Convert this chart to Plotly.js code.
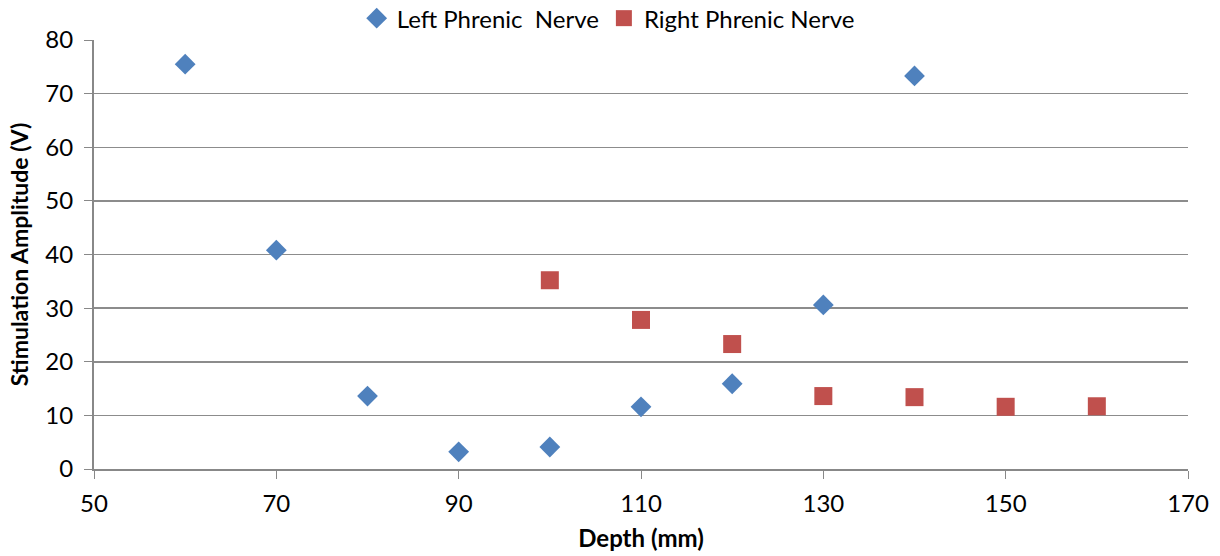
<!DOCTYPE html>
<html>
<head>
<meta charset="utf-8">
<script src="https://cdn.plot.ly/plotly-3.0.1.min.js"></script>
<style>html,body{margin:0;padding:0;background:#fff}#chart{width:1220px;height:556px}</style>
</head>
<body>
<div id="chart"></div>
<script>
const leftDepth = [60, 70, 80, 90, 100, 110, 120, 130, 140];
const leftAmp = [75.5, 40.8, 13.6, 3.2, 4.1, 11.6, 15.9, 30.6, 73.3];
const rightDepth = [100, 110, 120, 130, 140, 150, 160];
const rightAmp = [35.2, 27.8, 23.3, 13.6, 13.4, 11.6, 11.7];
const xTicks = [50, 70, 90, 110, 130, 150, 170];
const yTicks = [0, 10, 20, 30, 40, 50, 60, 70, 80];

const font = "Lato, 'Open Sans', sans-serif";
const traces = [
  {x: leftDepth, y: leftAmp, mode: 'markers', type: 'scatter', name: 'Left Phrenic  Nerve',
   marker: {symbol: 'diamond', size: 16, color: '#4F81BD'}},
  {x: rightDepth, y: rightAmp, mode: 'markers', type: 'scatter', name: 'Right Phrenic Nerve',
   marker: {symbol: 'square', size: 18, color: '#C0504D'}}
];
const layout = {
  width: 1220, height: 556,
  margin: {l: 94, r: 32, t: 40, b: 87, autoexpand: false},
  paper_bgcolor: '#fff', plot_bgcolor: '#fff',
  font: {family: font, size: 24, color: '#000'},
  showlegend: true,
  legend: {orientation: 'h', x: 0.47, xanchor: 'center', y: 1.05, yanchor: 'middle',
           font: {family: font, size: 24}, itemwidth: 30},
  xaxis: {range: [50, 170], tickvals: xTicks, ticks: 'outside', ticklen: 8, tickcolor: '#888',
          ticklabelstandoff: 4,
          showgrid: false, zeroline: false, showline: true, linecolor: '#888', linewidth: 2,
          title: {text: '<b>Depth (mm)</b>', font: {family: font, size: 24}, standoff: 14},
          tickfont: {family: font, size: 24}},
  yaxis: {range: [0, 80], tickvals: yTicks, ticks: 'outside', ticklen: 8, tickcolor: '#888',
          ticklabelstandoff: 6,
          showgrid: true, gridcolor: '#8c8c8c', gridwidth: 1.5, zeroline: false,
          showline: true, linecolor: '#888', linewidth: 2,
          title: {text: '<b>Stimulation Amplitude (V)</b>', font: {family: font, size: 23}, standoff: 10},
          tickfont: {family: font, size: 24}}
};
Plotly.newPlot('chart', traces, layout, {displayModeBar: false, staticPlot: true});
</script>
</body>
</html>
